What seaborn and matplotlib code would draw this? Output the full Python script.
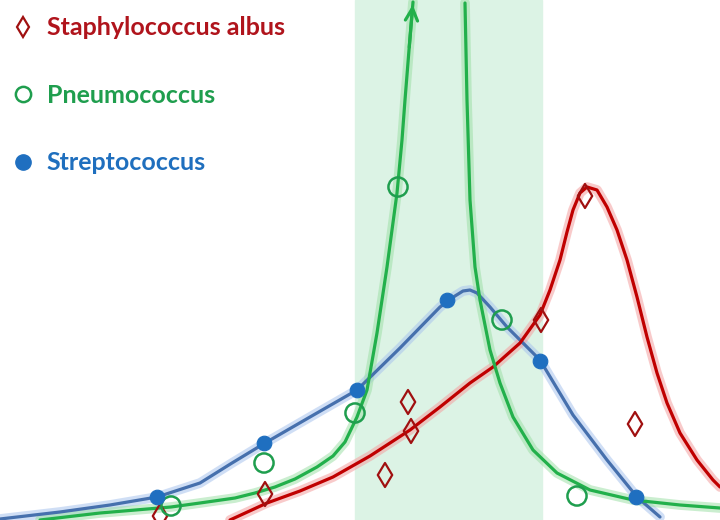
import matplotlib
matplotlib.use("Agg")
import matplotlib.pyplot as plt
from matplotlib.lines import Line2D
import pandas as pd
import seaborn as sns

sns.set_style("white")
plt.rcParams['font.family'] = ['Lato', 'DejaVu Sans']

# series names
names = ["Staphylococcus albus", "Pneumococcus", "Streptococcus"]

# observed points (x, height)
staph_x = [160, 265, 385, 408, 411, 541, 585, 635]
staph_y = [4, 26, 45, 118, 89, 200, 324, 96]
pneumo_x = [171, 264, 355, 398, 502, 577]
pneumo_y = [14, 57, 107, 333, 200, 24]
strep_x = [157, 264, 357, 447, 540, 636]
strep_y = [23, 77, 130, 220, 159, 23]

# fitted curves
strep_cx = [0, 60, 110, 157, 200, 232, 265, 310, 357, 400, 440, 455, 463, 470, 477, 490, 507, 540, 573, 607, 637, 660]
strep_cy = [1, 8, 15, 23, 37, 57, 77, 103, 130, 172, 213, 224, 229, 230, 227, 213, 193, 160, 105, 60, 23, 3]
pneumo_left_cx = [40, 100, 171, 200, 235, 255, 275, 295, 317, 333, 345, 357, 367, 377, 387, 397, 402, 405, 409, 413]
pneumo_left_cy = [0, 7, 13, 17, 22, 27, 33, 41, 53, 64, 78, 103, 130, 187, 253, 327, 380, 420, 470, 518]
pneumo_right_cx = [465, 467, 470, 475, 480, 490, 500, 513, 533, 557, 590, 633, 680, 720]
pneumo_right_cy = [517, 420, 320, 253, 220, 170, 137, 103, 70, 47, 30, 20, 15, 12]
staph_cx = [230, 267, 300, 333, 370, 410, 440, 470, 493, 520, 540, 550, 560, 567, 573, 580, 587,
            597, 607, 617, 627, 637, 647, 657, 667, 680, 697, 713, 720]
staph_cy = [0, 17, 29, 43, 64, 90, 113, 137, 153, 177, 205, 230, 260, 288, 310, 327, 333,
            330, 313, 290, 260, 223, 183, 147, 117, 87, 60, 40, 33]

# highlighted range
band_lo, band_hi = 355, 542

red, red_glow, red_txt = "#c00000", "#f4a0a0", "#b0141c"
green, green_glow, green_txt = "#22b04b", "#9fe0a8", "#1f9e4e"
blue, blue_glow, blue_txt = "#4670ad", "#a9c4ee", "#1f6fbe"

fig = plt.figure(figsize=(7.2, 5.2), dpi=100)
ax = fig.add_axes([0, 0, 1, 1])
ax.axvspan(band_lo, band_hi, color="#dcf3e5", zorder=0)


def curve(xs, ys, col, glow):
    df = pd.DataFrame({"x": xs, "y": ys})
    sns.lineplot(data=df, x="x", y="y", color=glow, linewidth=7, alpha=0.55, ax=ax, zorder=2,
                 solid_joinstyle="round", solid_capstyle="round")
    sns.lineplot(data=df, x="x", y="y", color=col, linewidth=2.3, ax=ax, zorder=3,
                 solid_joinstyle="round", solid_capstyle="round")


curve(strep_cx, strep_cy, blue, blue_glow)
curve(staph_cx, staph_cy, red, red_glow)
curve(pneumo_left_cx, pneumo_left_cy, green, green_glow)
curve(pneumo_right_cx, pneumo_right_cy, green, green_glow)

# arrow head on the runaway Pneumococcus branch
ax.annotate("", xy=(pneumo_left_cx[-1], pneumo_left_cy[-1]),
            xytext=(pneumo_left_cx[-2], pneumo_left_cy[-2]),
            arrowprops=dict(arrowstyle="->", color=green, lw=2.3, mutation_scale=22),
            zorder=4)

sns.scatterplot(x=staph_x, y=staph_y, marker="d", s=150, facecolor="none",
                edgecolor="#a01010", linewidth=1.6, ax=ax, zorder=5)
sns.scatterplot(x=pneumo_x, y=pneumo_y, marker="o", s=190, facecolor="none",
                edgecolor="#1f9e4e", linewidth=1.8, ax=ax, zorder=5)
sns.scatterplot(x=strep_x, y=strep_y, marker="o", s=110, color="#1f6fc0",
                edgecolor="#1f6fc0", ax=ax, zorder=5)

handles = [
    Line2D([], [], ls="", marker="d", ms=10, mfc="none", mec="#a01010", mew=1.6),
    Line2D([], [], ls="", marker="o", ms=11, mfc="none", mec="#1f9e4e", mew=1.8),
    Line2D([], [], ls="", marker="o", ms=11, mfc="#1f6fc0", mec="#1f6fc0"),
]
leg = ax.legend(handles, names, loc="upper left", bbox_to_anchor=(0.0, 1.0),
                frameon=False, prop={"weight": "bold", "size": 18},
                labelspacing=1.78, handletextpad=0.72, borderaxespad=0.25,
                handlelength=0.5)
for t, c in zip(leg.get_texts(), [red_txt, green_txt, blue_txt]):
    t.set_color(c)

ax.set_xlim(0, 720)
ax.set_ylim(0, 520)
ax.set_axis_off()

fig.savefig("out.png", dpi=100)
